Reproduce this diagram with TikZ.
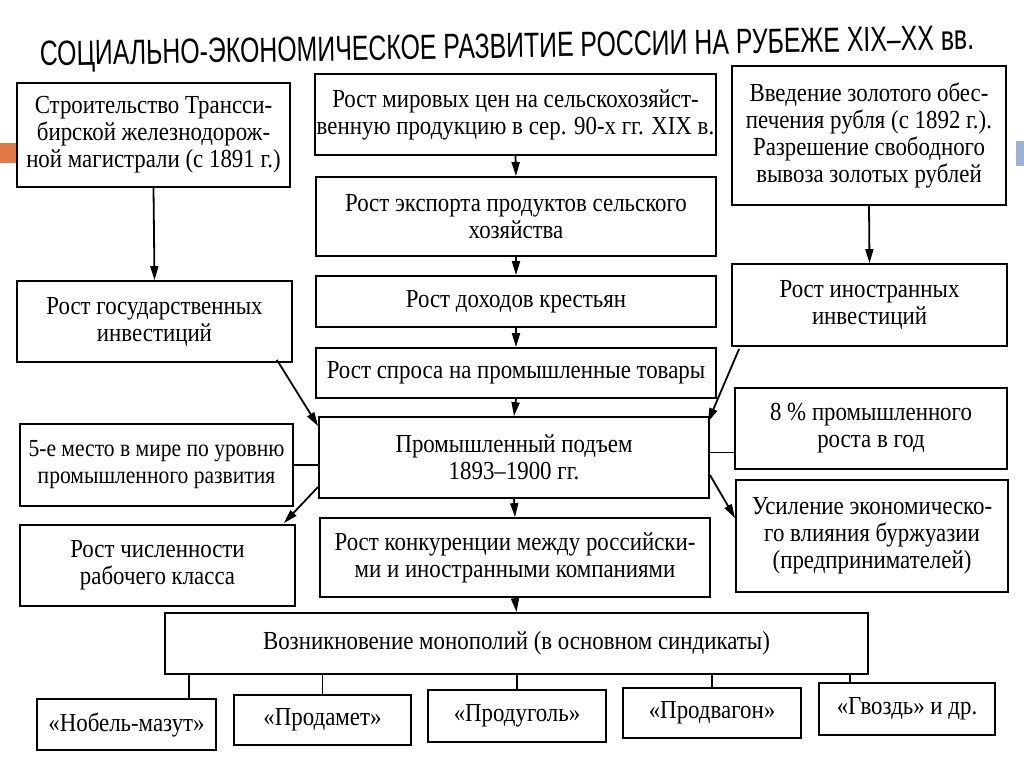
\documentclass[tikz,border=0pt]{standalone}
\usepackage{fontspec}
\setmainfont{Liberation Serif}[FakeStretch=0.88]
\newfontfamily\titlefont{Liberation Sans}[FakeStretch=0.71]
\usetikzlibrary{arrows.meta,calc}
\definecolor{decoorange}{RGB}{224,123,71}
\definecolor{decoblue}{RGB}{155,179,212}
\begin{document}
\begin{tikzpicture}[x=1pt,y=-1pt,
  box/.style={draw=black,line width=1.8pt,fill=white,align=center,inner sep=2pt,
    font=\fontsize{26}{27}\selectfont},
  arr/.style={line width=1.8pt,-{Triangle[length=14pt,width=8pt]}},
  link/.style={line width=1.8pt}]
\useasboundingbox (0,0) rectangle (1024,768);
\fill[white] (0,0) rectangle (1024,768);
% decorative bars
\fill[decoorange] (0,143) rectangle (17,163);
\fill[decoblue] (1016,141) rectangle (1024,166);
% title
\node[rotate=1,font=\titlefont\fontsize{35}{38}\selectfont,inner sep=0pt] (title) at (507,49)
  {СОЦИАЛЬНО-ЭКОНОМИЧЕСКОЕ РАЗВИТИЕ РОССИИ НА РУБЕЖЕ XIX–XX вв.};
% boxes
\node[box,minimum width=273,minimum height=104] (tr) at (153.5,135)
  {Строительство Трансси-\\бирской железнодорож-\\ной магистрали (с 1891 г.)};
\node[box,minimum width=401,minimum height=81] (ceny) at (515.5,114.5)
  {Рост мировых цен на сельскохозяйст-\\венную продукцию в сер. 90-х гг. XIX в.};
\node[box,minimum width=274,minimum height=139] (zol) at (869,135.5)
  {Введение золотого обес-\\печения рубля (с 1892 г.).\\Разрешение свободного\\вывоза золотых рублей};
\node[box,minimum width=400,minimum height=79] (exp) at (516,216.5)
  {Рост экспорта продуктов сельского\\хозяйства};
\node[box,minimum width=400,minimum height=51] (doh) at (516,301.5)
  {Рост доходов крестьян};
\node[box,minimum width=400,minimum height=50] (spros) at (516,373)
  {Рост спроса на промышленные товары};
\node[box,minimum width=390,minimum height=81] (prom) at (514,457.5)
  {Промышленный подъем\\1893–1900 гг.};
\node[box,minimum width=275,minimum height=81] (gos) at (154.5,321.5)
  {Рост государственных\\инвестиций};
\node[box,minimum width=275,minimum height=82] (ino) at (869.5,305)
  {Рост иностранных\\инвестиций};
\node[box,minimum width=273,minimum height=82,font=\fontsize{24.5}{27}\selectfont] (mesto) at (156.5,465)
  {5-е место в мире по уровню\\промышленного развития};
\node[box,minimum width=272,minimum height=81] (vosem) at (871,428.5)
  {8 \% промышленного\\роста в год};
\node[box,minimum width=272,minimum height=112] (usil) at (872,536)
  {Усиление экономическо-\\го влияния буржуазии\\(предпринимателей)};
\node[box,minimum width=275,minimum height=81] (chisl) at (157.5,565.5)
  {Рост численности\\рабочего класса};
\node[box,minimum width=390,minimum height=79] (konk) at (515,557.5)
  {Рост конкуренции между российски-\\ми и иностранными компаниями};
\node[box,minimum width=703,minimum height=61] (mono) at (516.5,643.5)
  {Возникновение монополий (в основном синдикаты)};
\node[box,minimum width=179,minimum height=51] (nobel) at (126.5,724.5)
  {«Нобель-мазут»};
\node[box,minimum width=177,minimum height=50] (pmet) at (322.5,720)
  {«Продамет»};
\node[box,minimum width=178,minimum height=52] (pug) at (517,716)
  {«Продуголь»};
\node[box,minimum width=178,minimum height=50] (pvag) at (712,713)
  {«Продвагон»};
\node[box,minimum width=176,minimum height=52] (gvo) at (907,709)
  {«Гвоздь» и др.};
% arrows
\draw[arr] (tr.south) -- (gos.north);
\draw[arr] (ceny.south) -- (exp.north);
\draw[arr] (exp.south) -- (doh.north);
\draw[arr] (doh.south) -- (spros.north);
\draw[arr] (spros.south) -- (prom.north);
\draw[arr] (prom.south) -- (konk.north);
\draw[arr] (konk.south) -- (mono.north);
\draw[arr] (zol.south) -- (ino.north);
\draw[arr] ($(gos.south east)+(-16,-3)$) -- ($(prom.north west)+(0,10)$);
\draw[arr] ($(ino.south west)+(8,2)$) -- ($(prom.north east)+(-2,6)$);
\draw[arr] ($(prom.south west)+(0,-12)$) -- ($(chisl.north east)+(-12,-1)$);
\draw[arr] ($(prom.south east)+(0,-24)$) -- ($(usil.north west)+(0,39)$);
\draw[link] (mesto.east -| prom.west) -- (mesto.east);
\draw[link] ($(prom.east)+(0,-5)$) coordinate (pe) -- (pe -| vosem.west);
% monopoly branches
\draw[link] (nobel.north -| 189,0) -- (mono.south -| 189,0);
\draw[link] (pmet.north) -- (pmet.north |- mono.south);
\draw[link] (pug.north) -- (pug.north |- mono.south);
\draw[link] (pvag.north) -- (pvag.north |- mono.south);
\draw[link] (gvo.north -| 850,0) -- (mono.south -| 850,0);
\end{tikzpicture}
\end{document}
